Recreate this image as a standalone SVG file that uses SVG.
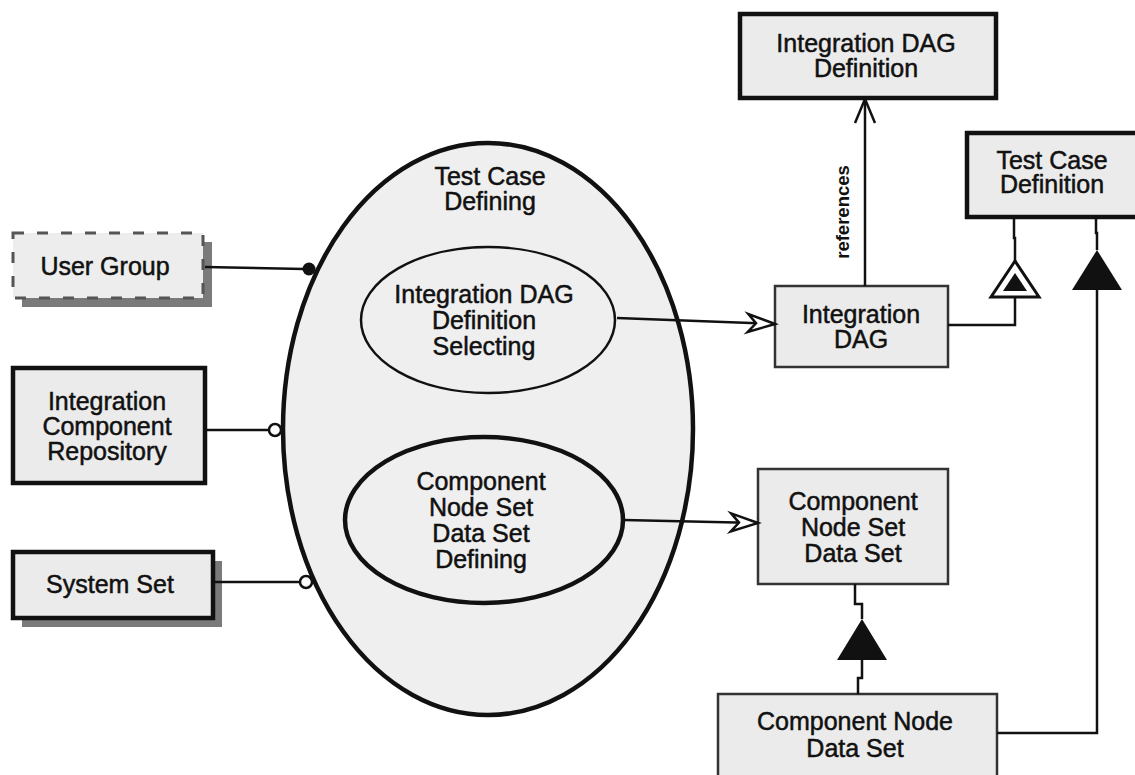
<svg xmlns="http://www.w3.org/2000/svg" width="1135" height="775" viewBox="0 0 1135 775">
  <style>
    .lbl { font-family: "Liberation Sans", Arial, sans-serif; font-size: 25px; fill: #111; stroke: #111; stroke-width: 0.5; text-anchor: middle; }
    .small { font-family: "Liberation Sans", Arial, sans-serif; font-size: 18.5px; font-weight: bold; fill: #111; text-anchor: middle; }
    .box { fill: #ebebeb; stroke: #111; }
    .thick { stroke-width: 4.5; }
    .thin { stroke-width: 2.5; stroke: #333; }
    .shadow { fill: #7a7a7a; }
    .proc { fill: #efefef; stroke: #111; }
    .wire { fill: none; stroke: #111; stroke-width: 2.5; }
  </style>
  <defs>
    <marker id="barb" markerUnits="userSpaceOnUse" orient="auto" overflow="visible" markerWidth="30" markerHeight="20" refX="0" refY="0">
      <path d="M0,0 L-27,-9 L-19,0 L-27,9 Z" fill="#fff" stroke="#111" stroke-width="2.5" stroke-linejoin="miter"/>
    </marker>
    <marker id="openV" markerUnits="userSpaceOnUse" orient="auto" overflow="visible" markerWidth="20" markerHeight="24" refX="0" refY="0">
      <path d="M-24,-10 L0,0 L-24,10" fill="none" stroke="#111" stroke-width="2.5"/>
    </marker>
  </defs>

  <rect width="1135" height="775" fill="#fff"/>

  <!-- main process with its two sub-processes -->
  <g id="test-case-defining">
    <ellipse class="proc" cx="488" cy="429" rx="205" ry="286" stroke-width="4.5"/>
    <text class="lbl" x="490" y="185">Test Case</text>
    <text class="lbl" x="490" y="210">Defining</text>
  </g>
  <g id="integration-dag-definition-selecting">
    <ellipse class="proc" cx="488" cy="320" rx="127" ry="73" stroke-width="2.5"/>
    <text class="lbl" x="484" y="303">Integration DAG</text>
    <text class="lbl" x="484" y="329">Definition</text>
    <text class="lbl" x="484" y="355">Selecting</text>
  </g>
  <g id="component-node-set-data-set-defining">
    <ellipse class="proc" cx="484" cy="520" rx="139" ry="83" stroke-width="4.5"/>
    <text class="lbl" x="481" y="490">Component</text>
    <text class="lbl" x="481" y="516">Node Set</text>
    <text class="lbl" x="481" y="542">Data Set</text>
    <text class="lbl" x="481" y="568">Defining</text>
  </g>

  <!-- agents and instruments on the left -->
  <g id="user-group">
    <rect class="shadow" x="22" y="242" width="190" height="65"/>
    <rect x="13" y="233" width="190" height="65" fill="#ededed" stroke="#555" stroke-width="3" stroke-dasharray="11 13"/>
    <text class="lbl" x="105" y="275">User Group</text>
  </g>
  <g id="integration-component-repository">
    <rect class="box thick" x="13" y="368" width="192" height="115"/>
    <text class="lbl" x="107" y="410">Integration</text>
    <text class="lbl" x="107" y="435">Component</text>
    <text class="lbl" x="107" y="460">Repository</text>
  </g>
  <g id="system-set">
    <rect class="shadow" x="22" y="561" width="200" height="66"/>
    <rect class="box thick" x="13" y="552" width="200" height="66"/>
    <text class="lbl" x="110" y="593">System Set</text>
  </g>

  <!-- objects on the right -->
  <g id="integration-dag-definition">
    <rect class="box thick" x="740" y="14" width="256" height="84"/>
    <text class="lbl" x="866" y="52">Integration DAG</text>
    <text class="lbl" x="866" y="77">Definition</text>
  </g>
  <g id="test-case-definition">
    <rect class="box thick" x="967" y="133" width="172" height="84"/>
    <text class="lbl" x="1052" y="169">Test Case</text>
    <text class="lbl" x="1052" y="193">Definition</text>
  </g>
  <g id="integration-dag">
    <rect class="box thin" x="775" y="286" width="173" height="81"/>
    <text class="lbl" x="861" y="323">Integration</text>
    <text class="lbl" x="861" y="348">DAG</text>
  </g>
  <g id="component-node-set-data-set">
    <rect class="box thin" x="758" y="469" width="190" height="115"/>
    <text class="lbl" x="853" y="510">Component</text>
    <text class="lbl" x="853" y="536">Node Set</text>
    <text class="lbl" x="853" y="562">Data Set</text>
  </g>
  <g id="component-node-data-set">
    <rect class="box thin" x="718" y="694" width="279" height="90"/>
    <text class="lbl" x="855" y="730">Component Node</text>
    <text class="lbl" x="855" y="757">Data Set</text>
  </g>

  <!-- links -->
  <g id="connectors">
    <!-- agent link -->
    <line class="wire" x1="205" y1="267" x2="304" y2="269"/>
    <circle cx="309" cy="269" r="6.5" fill="#111"/>
    <!-- instrument links -->
    <line class="wire" x1="205" y1="430" x2="269" y2="430"/>
    <circle cx="275" cy="430" r="6" fill="#fff" stroke="#111" stroke-width="2.5"/>
    <line class="wire" x1="213" y1="582" x2="300" y2="582"/>
    <circle cx="306" cy="582" r="6" fill="#fff" stroke="#111" stroke-width="2.5"/>

    <!-- result links -->
    <line class="wire" x1="617" y1="318" x2="775" y2="324" marker-end="url(#barb)"/>
    <line class="wire" x1="624" y1="520" x2="758" y2="523" marker-end="url(#barb)"/>

    <!-- tagged structural link -->
    <line class="wire" x1="865" y1="286" x2="865" y2="99" marker-end="url(#openV)"/>
    <text class="small" transform="translate(849 212) rotate(-90)">references</text>

    <!-- exhibition link: Integration DAG to Test Case Definition -->
    <path class="wire" d="M948,325 H1015 V297"/>
    <path class="wire" d="M1015,261 V238 h-1 V217"/>
    <polygon points="1015,261 991,297 1039,297" fill="#fff" stroke="#111" stroke-width="3"/>
    <polygon points="1015,273 1003,291 1027,291" fill="#111"/>

    <!-- aggregation link: Component Node Data Set to Test Case Definition -->
    <path class="wire" d="M997,733 H1097 V290"/>
    <path class="wire" d="M1097,250 V233 h-1 V217"/>
    <polygon points="1097,250 1072,290 1122,290" fill="#111"/>

    <!-- aggregation link: Component Node Data Set to Component Node Set Data Set -->
    <path class="wire" d="M858,694 V678 H862 V660"/>
    <path class="wire" d="M862,619 V604 H855 V584"/>
    <polygon points="862,619 837,660 887,660" fill="#111"/>
  </g>
</svg>
